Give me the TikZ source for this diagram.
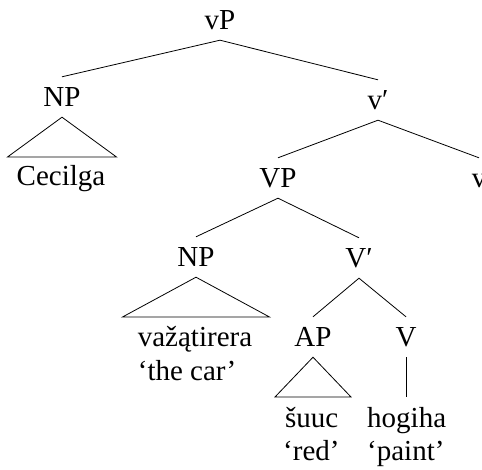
\documentclass[tikz,border=0pt]{standalone}
\usepackage{fontspec}
\setmainfont{Liberation Serif}
\usetikzlibrary{calc}
\tikzset{
  lab/.style={inner xsep=0pt, inner ysep=8pt, text height=22pt, text depth=2pt,
    anchor=base, font=\fontsize{29}{33}\selectfont},
  word/.style={inner sep=0pt, anchor=base, font=\fontsize{29}{33}\selectfont},
  gloss/.style={inner sep=0pt, anchor=base west, font=\fontsize{29}{33}\selectfont},
  edge/.style={draw=black, line width=0.8pt}
}
\begin{document}
\begin{tikzpicture}[x=1pt, y=1pt]
\useasboundingbox (0,0) rectangle (482,-470);
% level 0
\node[lab] (vP) at (220,-30) {vP};
% level 1
\node[lab] (NPa) at (62,-107) {NP};
\node[lab] (vbar) at (378,-110) {v′};
\node[word] (Cec) at (61,-186) {Cecilga};
% level 2
\node[lab] (VP) at (278,-188) {VP};
\node[lab] (v) at (479,-188) {v};
% level 3
\node[lab] (NPb) at (196,-267) {NP};
\node[lab] (Vbar) at (359,-268) {V′};
% level 4
\node[word] (waz) at (195,-347) {važątirera};
\node[gloss] (gcar) at ($(waz.base west)+(0,-33)$) {‘the car’};
\node[lab] (AP) at (313,-347) {AP};
\node[lab] (V) at (406,-347) {V};
% level 5
\node[word, anchor=base west] (suuc) at (285,-427) {šuuc};
\node[gloss] (gred) at ($(suuc.base west)+(-2,-33)$) {‘red’};
\node[word, anchor=base west] (hog) at (367,-427) {hogiha};
\node[gloss] (gpaint) at ($(hog.base west)+(0,-33)$) {‘paint’};
% connectors
\draw[edge] (NPa.north) -- (vP.south) -- (vbar.north);
\draw[edge] (VP.north) -- (vbar.south) -- (v.north);
\draw[edge] (NPb.north) -- (VP.south) -- (Vbar.north);
\draw[edge] (AP.north) -- (Vbar.south) -- (V.north);
\draw[edge] (V.south) -- ($(V.south |- hog.base)+(0,30)$);
% triangles
\draw[edge, line join=miter] (NPa.south) -- ($(NPa.south |- Cec.base)+(-54.5,29)$) -- ($(NPa.south |- Cec.base)+(54.5,29)$) -- cycle;
\draw[edge, line join=miter] (NPb.south) -- ($(NPb.south |- waz.base)+(-73.5,30)$) -- ($(NPb.south |- waz.base)+(73.5,30)$) -- cycle;
\draw[edge, line join=miter] (AP.south) -- ($(AP.south |- suuc.base)+(-38,30)$) -- ($(AP.south |- suuc.base)+(38,30)$) -- cycle;
\end{tikzpicture}
\end{document}
